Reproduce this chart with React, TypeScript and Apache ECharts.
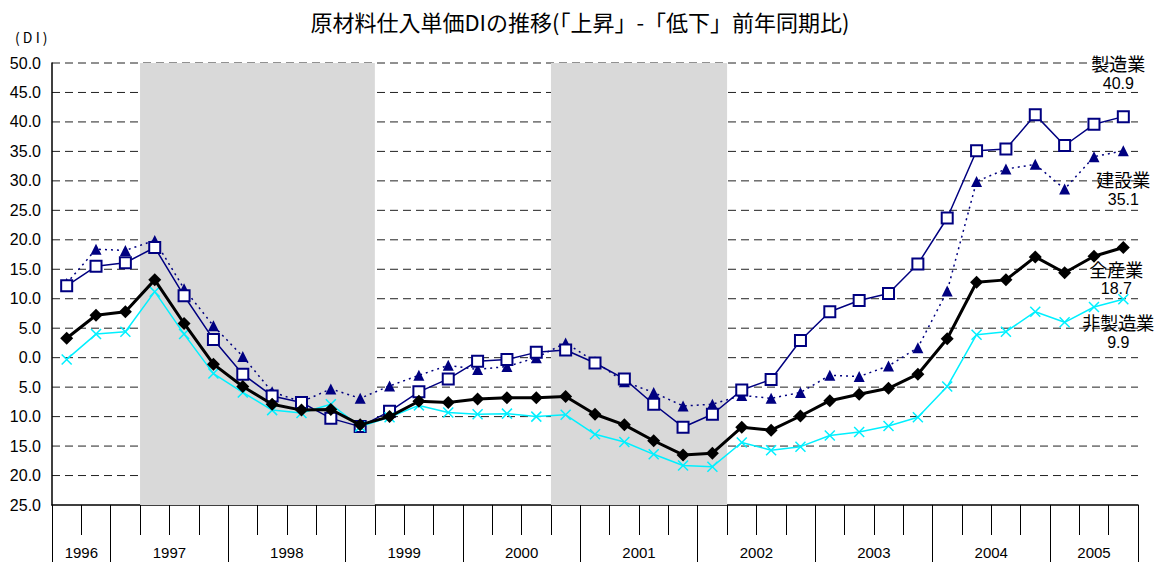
import React, { useEffect, useRef } from 'react';
import * as echarts from 'echarts';

const quarters = [
  '1996Q3', '1996Q4',
  '1997Q1', '1997Q2', '1997Q3', '1997Q4',
  '1998Q1', '1998Q2', '1998Q3', '1998Q4',
  '1999Q1', '1999Q2', '1999Q3', '1999Q4',
  '2000Q1', '2000Q2', '2000Q3', '2000Q4',
  '2001Q1', '2001Q2', '2001Q3', '2001Q4',
  '2002Q1', '2002Q2', '2002Q3', '2002Q4',
  '2003Q1', '2003Q2', '2003Q3', '2003Q4',
  '2004Q1', '2004Q2', '2004Q3', '2004Q4',
  '2005Q1', '2005Q2', '2005Q3',
];

const yearLabels = ['1996', '1997', '1998', '1999', '2000', '2001', '2002', '2003', '2004', '2005'];
const quartersPerYear = [2, 4, 4, 4, 4, 4, 4, 4, 4, 3];

const yTicks = { min: -25, max: 50, interval: 5 };

// 全産業
const allIndustries = [
  3.3, 7.2, 7.8,
  13.2, 5.8, -1.1, -4.9,
  -7.9, -8.9, -8.8, -11.4,
  -10.0, -7.4, -7.6, -7.0,
  -6.8, -6.8, -6.6, -9.6,
  -11.4, -14.1, -16.5, -16.2,
  -11.8, -12.3, -9.9, -7.3,
  -6.2, -5.2, -2.8, 3.2,
  12.8, 13.2, 17.1, 14.4,
  17.2, 18.7,
];

// 製造業
const manufacturing = [
  12.2, 15.5, 16.1,
  18.7, 10.5, 3.1, -2.8,
  -6.5, -7.6, -10.3, -11.7,
  -9.1, -5.8, -3.6, -0.6,
  -0.3, 0.9, 1.3, -0.9,
  -3.6, -7.9, -11.8, -9.6,
  -5.5, -3.7, 2.9, 7.8,
  9.7, 10.9, 15.9, 23.7,
  35.1, 35.4, 41.2, 36.0,
  39.6, 40.9,
];

// 建設業
const construction = [
  12.6, 18.4, 18.2,
  19.9, 11.7, 5.4, 0.2,
  -5.8, -7.5, -5.3, -6.9,
  -4.8, -3.0, -1.3, -2.0,
  -1.5, 0.0, 2.5, -0.7,
  -4.1, -5.9, -8.2, -7.9,
  -6.4, -6.9, -5.9, -3.0,
  -3.2, -1.4, 1.7, 11.3,
  29.9, 32.0, 32.8, 28.6,
  34.1, 35.1,
];

// 非製造業
const nonManufacturing = [
  -0.3, 4.0, 4.4,
  11.2, 4.0, -2.7, -5.9,
  -8.9, -9.4, -7.9, -11.7,
  -10.1, -8.1, -9.3, -9.6,
  -9.5, -10.0, -9.7, -13.0,
  -14.3, -16.4, -18.3, -18.5,
  -14.4, -15.7, -15.1, -13.2,
  -12.6, -11.6, -10.1, -4.9,
  3.9, 4.4, 7.8, 6.0,
  8.6, 9.9,
];

// recession periods (first and last quarter, inclusive)
const recessions = [
  ['1997Q2', '1999Q1'],
  ['2000Q4', '2002Q1'],
];

const JP = '"Noto Sans CJK JP", "Noto Sans", sans-serif';
const LAT = '"Liberation Sans", Arial, sans-serif';

export default function App() {
  const ref = useRef<HTMLDivElement>(null);

  useEffect(() => {
    document.body.style.margin = '0';
    if (!ref.current) return;
    const chart = echarts.init(ref.current, null, { renderer: 'svg' });

    const bounds: number[] = [0];
    quartersPerYear.forEach((n) => bounds.push(bounds[bounds.length - 1] + n));
    const centers = yearLabels.map((_, i) => (bounds[i] + bounds[i + 1]) / 2);

    const areas = recessions.map(([a, b]) => [
      { xAxis: quarters.indexOf(a) },
      { xAxis: quarters.indexOf(b) + 1 },
    ]);

    const gridValues: number[] = [];
    for (let v = yTicks.min + yTicks.interval; v <= yTicks.max; v += yTicks.interval) gridValues.push(v);

    const lastLabel = (name: string, offset: number[], position: string) => ({
      show: true,
      position,
      offset,
      formatter: (p: any) => `{n|${name}}\n{v|${Number(p.value).toFixed(1)}}`,
      align: 'center',
      rich: {
        n: { fontFamily: JP, fontSize: 18, lineHeight: 20, color: '#000', align: 'center' },
        v: { fontFamily: LAT, fontSize: 16, lineHeight: 20, color: '#000', align: 'center' },
      },
    });

    const withLabel = (vals: number[], label: any) =>
      vals.map((v, i) => (i === vals.length - 1 ? { value: v, label } : v));

    const option: any = {
      animation: false,
      backgroundColor: '#fff',
      title: [
        {
          text: '原材料仕入単価DIの推移(「上昇」-「低下」前年同期比)',
          left: 'center',
          top: 5,
          textStyle: { fontSize: 22, fontWeight: 'normal', fontFamily: JP, color: '#000' },
        },
        {
          text: '( D I )',
          left: 10,
          top: 25,
          textStyle: { fontSize: 14, fontWeight: 'normal', fontFamily: JP, color: '#000' },
        },
      ],
      grid: { left: 52, right: 22, top: 63, bottom: 57, containLabel: false },
      xAxis: [
        {
          type: 'category',
          data: quarters,
          boundaryGap: true,
          axisLine: { show: true, onZero: false, lineStyle: { color: '#000', width: 1.5 } },
          axisTick: { show: true, interval: 0, length: 30, lineStyle: { color: '#000', width: 1 } },
          axisLabel: { show: false },
          splitLine: { show: false },
        },
        {
          type: 'value',
          min: 0,
          max: quarters.length,
          position: 'bottom',
          axisLine: { show: false, onZero: false },
          splitLine: { show: false },
          axisTick: {
            show: true,
            customValues: bounds,
            length: 57,
            lineStyle: { color: '#000', width: 1 },
          },
          axisLabel: {
            show: true,
            customValues: centers,
            margin: 40,
            fontFamily: LAT,
            fontSize: 15,
            color: '#000',
            formatter: (v: number) => {
              const i = centers.findIndex((c) => Math.abs(c - v) < 1e-6);
              return i >= 0 ? yearLabels[i] : '';
            },
          },
        },
      ],
      yAxis: {
        type: 'value',
        min: yTicks.min,
        max: yTicks.max,
        interval: yTicks.interval,
        axisLine: { show: true, onZero: false, lineStyle: { color: '#000', width: 1.5 } },
        axisTick: { show: false },
        axisLabel: {
          margin: 11,
          fontFamily: LAT,
          fontSize: 16,
          color: '#000',
          formatter: (v: number) => Math.abs(v).toFixed(1),
        },
        splitLine: { show: false },
      },
      series: [
        {
          name: 'gridlines',
          type: 'custom',
          xAxisIndex: 1,
          silent: true,
          z: 0,
          data: gridValues.map((v) => [0, v]),
          renderItem: (params: any, api: any) => {
            const cs = params.coordSys;
            const y = api.coord([0, api.value(1)])[1];
            return {
              type: 'line',
              shape: { x1: cs.x, y1: y, x2: cs.x + cs.width, y2: y },
              style: { stroke: '#222', lineWidth: 1, lineDash: [8, 5], fill: null },
              silent: true,
            };
          },
        },
        {
          name: 'shade',
          type: 'line',
          xAxisIndex: 1,
          data: [],
          silent: true,
          z: 1,
          markArea: {
            silent: true,
            itemStyle: { color: '#d9d9d9' },
            data: areas,
          },
        },
        {
          name: '建設業',
          type: 'line',
          data: withLabel(construction, lastLabel('建設業', [0, 8], 'bottom')),
          symbol: 'triangle',
          symbolSize: 11,
          lineStyle: { color: '#000080', width: 1.5, type: [2, 4] },
          itemStyle: { color: '#000080' },
          z: 3,
        },
        {
          name: '製造業',
          type: 'line',
          data: withLabel(manufacturing, lastLabel('製造業', [-5, -12], 'top')),
          symbol: 'rect',
          symbolSize: 11,
          lineStyle: { color: '#000080', width: 1.5 },
          itemStyle: { color: '#fff', borderColor: '#000080', borderWidth: 2 },
          z: 4,
        },
        {
          name: '非製造業',
          type: 'line',
          data: withLabel(nonManufacturing, lastLabel('非製造業', [-5, 2], 'bottom')),
          symbol: 'path://M0,0L10,10M10,0L0,10',
          symbolSize: 10,
          lineStyle: { color: '#00f0ff', width: 1.5 },
          itemStyle: { color: '#00f0ff', borderColor: '#00f0ff', borderWidth: 1.5 },
          z: 5,
        },
        {
          name: '全産業',
          type: 'line',
          data: withLabel(allIndustries, lastLabel('全産業', [-7, 0], 'bottom')),
          symbol: 'diamond',
          symbolSize: 13,
          lineStyle: { color: '#000', width: 3 },
          itemStyle: { color: '#000' },
          z: 6,
        },
      ],
    };

    chart.setOption(option);
    return () => chart.dispose();
  }, []);

  return <div ref={ref} style={{ width: 1160, height: 562 }} />;
}
